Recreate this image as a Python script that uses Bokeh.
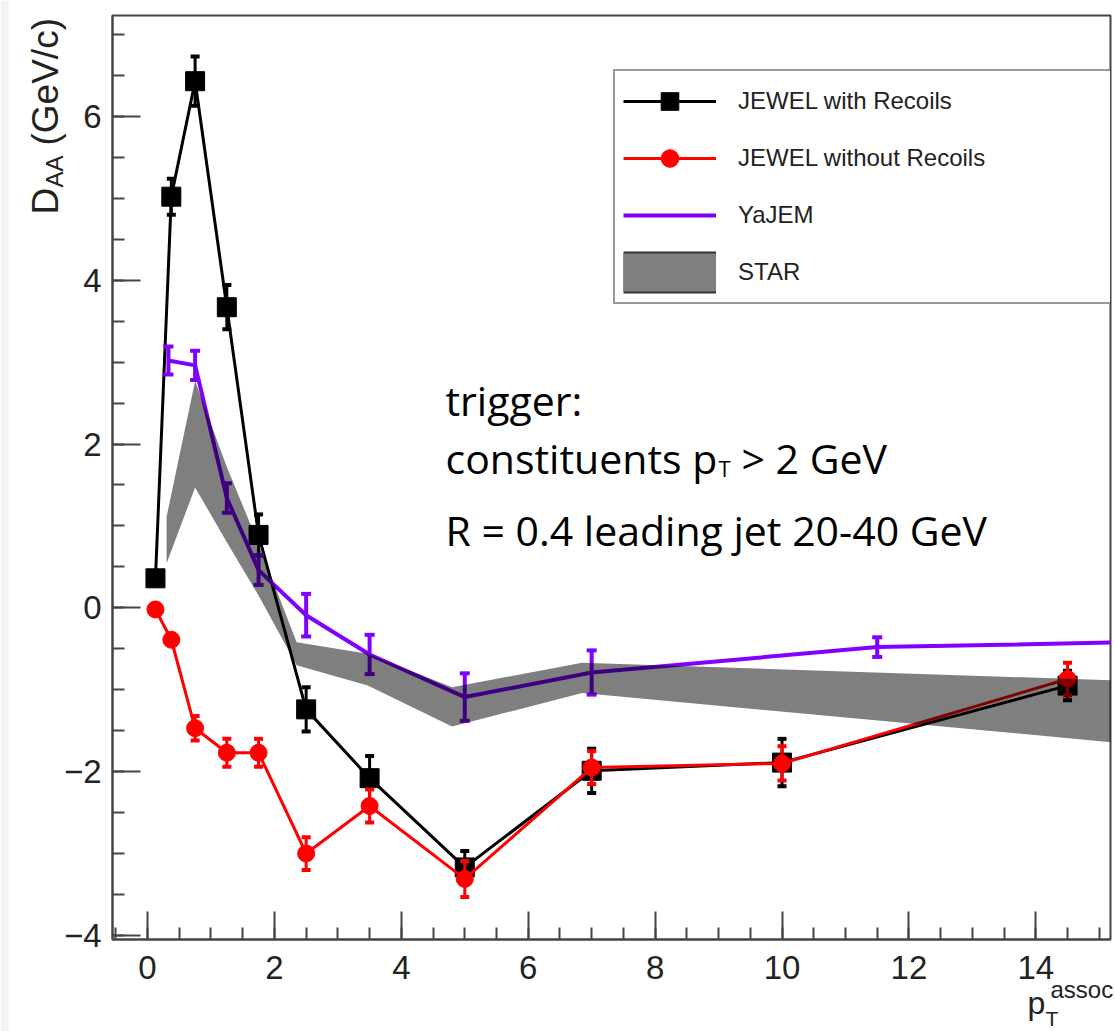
import math
from bokeh.plotting import figure
from bokeh.layouts import column
from bokeh.models import (Range1d, FixedTicker, CustomJSTickFormatter, Label,
                          Legend, LegendItem, GridBox)
from bokeh.embed import file_html
from bokeh.resources import INLINE

# ---------------- data ----------------
pt_x = [0.125, 0.375, 0.75, 1.25, 1.75, 2.5, 3.5, 5.0, 7.0, 10.0, 14.5]
rec_y = [0.36, 5.02, 6.43, 3.67, 0.89, -1.24, -2.08, -3.17, -1.99, -1.89, -0.95]
rec_err = [0.08, 0.22, 0.30, 0.27, 0.25, 0.27, 0.27, 0.20, 0.27, 0.29, 0.18]
norec_y = [-0.02, -0.39, -1.47, -1.77, -1.77, -3.00, -2.42, -3.31, -1.95, -1.90, -0.87]
norec_err = [0.05, 0.06, 0.15, 0.17, 0.17, 0.20, 0.20, 0.22, 0.20, 0.21, 0.20]
yajem_x = [0.33, 0.75, 1.25, 1.75, 2.5, 3.5, 5.0, 7.0, 11.5, 17.5]
yajem_y = [3.02, 2.96, 1.34, 0.46, -0.09, -0.57, -1.09, -0.79, -0.48, -0.39]
yajem_err = [0.17, 0.18, 0.18, 0.18, 0.26, 0.24, 0.29, 0.27, 0.12, 0.12]
star_x = [0.30, 0.75, 1.25, 1.75, 2.35, 3.47, 4.80, 6.85, 16.0]
star_hi = [1.11, 2.77, 1.72, 0.78, -0.42, -0.56, -0.97, -0.67, -0.905]
star_lo = [0.54, 1.47, 0.80, 0.15, -0.70, -0.95, -1.45, -1.04, -1.70]

x_major = [0, 2, 4, 6, 8, 10, 12, 14]
x_minor = [v * 0.5 for v in range(-1, 31)]
y_major = [-4, -2, 0, 2, 4, 6]
y_minor = [v * 0.5 for v in range(-8, 15)]

series_labels = ["JEWEL with Recoils", "JEWEL without Recoils", "YaJEM", "STAR"]
x_title = ["p", "T", "assoc"]
y_title = ["D", "AA", "(GeV/c)"]
note_lines = ["trigger:", "constituents p", "T", "> 2 GeV", "R = 0.4 leading jet 20-40 GeV"]

# ---------------- geometry (page pixels) ----------------
W, H = 1115, 1031
FL, FR, FT, FB = 112, 1110, 15, 939   # frame edges
PXU_X, PXU_Y = 63.45, 81.9
X0 = -0.552
Y0 = -4.05
X1 = X0 + (FR - FL) / PXU_X
Y1 = Y0 + (FB - FT) / PXU_Y


def X(px):
    return X0 + (px - FL) / PXU_X


def Y(py):
    return Y0 + (FB - py) / PXU_Y


p = figure(width=W, height=H, x_range=Range1d(X0, X1), y_range=Range1d(Y0, Y1),
           output_backend="svg", toolbar_location=None,
           min_border_left=FL, min_border_right=W - FR,
           min_border_top=FT, min_border_bottom=H - FB)
p.grid.visible = False
p.outline_line_color = "#444444"
p.outline_line_width = 2
p.background_fill_color = "white"
p.border_fill_color = "white"

fmt = CustomJSTickFormatter(code="return tick < 0 ? '\\u2212' + Math.abs(tick) : String(tick);")
for ax, maj, mnr in ((p.xaxis[0], x_major, x_minor), (p.yaxis[0], y_major, y_minor)):
    ax.ticker = FixedTicker(ticks=maj, minor_ticks=mnr)
    ax.formatter = fmt
    ax.major_tick_in = 28
    ax.major_tick_out = 0
    ax.minor_tick_in = 12
    ax.minor_tick_out = 0
    ax.axis_line_width = 2
    ax.axis_line_color = "#444444"
    ax.major_tick_line_width = 2
    ax.major_tick_line_color = "#444444"
    ax.minor_tick_line_width = 2
    ax.minor_tick_line_color = "#444444"
    ax.major_label_text_font = "Liberation Sans"
    ax.major_label_text_font_size = "33px"
    ax.major_label_text_color = "#222222"
p.xaxis.major_label_standoff = 16
p.yaxis.major_label_standoff = 11

# ---------------- JEWEL with recoils ----------------
BLACK = "black"
rec_lo = [a - b for a, b in zip(rec_y, rec_err)]
rec_hi = [a + b for a, b in zip(rec_y, rec_err)]
p.segment(x0=pt_x, x1=pt_x, y0=rec_lo, y1=rec_hi, line_color=BLACK, line_width=3)
p.scatter(x=pt_x + pt_x, y=rec_lo + rec_hi, marker="dash", size=9, line_width=4, line_color=BLACK)
r_rec_line = p.line(pt_x, rec_y, line_color=BLACK, line_width=3)
r_rec_pts = p.scatter(pt_x, rec_y, marker="square", size=19, fill_color=BLACK, line_color=BLACK)

# ---------------- JEWEL without recoils ----------------
RED = "#ff0000"
norec_lo = [a - b for a, b in zip(norec_y, norec_err)]
norec_hi = [a + b for a, b in zip(norec_y, norec_err)]
p.segment(x0=pt_x, x1=pt_x, y0=norec_lo, y1=norec_hi, line_color=RED, line_width=3)
p.scatter(x=pt_x + pt_x, y=norec_lo + norec_hi, marker="dash", size=9, line_width=4, line_color=RED)
r_norec_line = p.line(pt_x, norec_y, line_color=RED, line_width=3)
r_norec_pts = p.scatter(pt_x, norec_y, marker="circle", size=17, fill_color=RED, line_color=RED)

# ---------------- YaJEM ----------------
PURPLE = "#7f00ff"
yj_lo = [a - b for a, b in zip(yajem_y, yajem_err)]
yj_hi = [a + b for a, b in zip(yajem_y, yajem_err)]
p.segment(x0=yajem_x, x1=yajem_x, y0=yj_lo, y1=yj_hi, line_color=PURPLE, line_width=4)
p.scatter(x=yajem_x + yajem_x, y=yj_lo + yj_hi, marker="dash", size=10, line_width=4, line_color=PURPLE)
r_yajem_line = p.line(yajem_x, yajem_y, line_color=PURPLE, line_width=4)
nan = float("nan")
r_yajem_dot = p.scatter(x=[nan], y=[nan], marker="circle", size=2, fill_color=BLACK, line_color=BLACK)

# ---------------- STAR band (semi-transparent black on top) ----------------
p.varea(x=star_x, y1=star_lo, y2=star_hi, fill_color="black", fill_alpha=0.5)
r_star_edge = p.line(x=[nan], y=[nan], line_color="#333333", line_width=42)
r_star_fill = p.line(x=[nan], y=[nan], line_color="#808080", line_width=38)

# ---------------- legend ----------------
legend = Legend(items=[
    LegendItem(label=series_labels[0], renderers=[r_rec_line, r_rec_pts]),
    LegendItem(label=series_labels[1], renderers=[r_norec_line, r_norec_pts]),
    LegendItem(label=series_labels[2], renderers=[r_yajem_line]),
    LegendItem(label=series_labels[3], renderers=[r_star_edge, r_star_fill]),
], location=(613 - FL, FB - 304), orientation="vertical")
legend.padding = 8
legend.spacing = 13
legend.margin = 0
legend.glyph_width = 93
legend.glyph_height = 44
legend.label_height = 44
legend.label_standoff = 22
legend.label_width = (FR - 613) - 16 - 93 - 22
legend.label_text_font = "Liberation Sans"
legend.label_text_font_size = "24px"
legend.label_text_color = "#222222"
legend.border_line_color = "#333333"
legend.border_line_width = 2
legend.background_fill_color = "white"
legend.background_fill_alpha = 1.0
p.add_layout(legend)

# ---------------- annotation text inside the frame ----------------
NOTE_FONT = "Open Sans"
NOTE_SHIFT = 13   # measured downward offset of the rendered baseline


def note(txt, px, py, size, shift=NOTE_SHIFT):
    p.add_layout(Label(x=X(px), y=Y(py - shift), text=txt, text_font=NOTE_FONT,
                       text_font_size=size, text_color="black",
                       text_align="left", text_baseline="alphabetic"))


note(note_lines[0], 445, 412, "41px")
note(note_lines[1], 445, 470, "41px")
note(note_lines[2], 445 + 273, 474, "22px", 7)
note(note_lines[3], 445 + 273 + 12 + 11, 470, "41px")
note(note_lines[4], 445, 542, "41px")

# ---------------- transparent overlay for the axis titles ----------------
ann = figure(width=W, height=H, x_range=Range1d(0, W), y_range=Range1d(H, 0),
             output_backend="svg", toolbar_location=None,
             x_axis_type=None, y_axis_type=None, min_border=0)
ann.grid.visible = False
ann.outline_line_color = None
ann.background_fill_alpha = 0
ann.border_fill_alpha = 0
ann.quad(left=[0], right=[8], top=[0], bottom=[H], fill_color="#f3f3f3", line_color=None)


def title(txt, px, py, size, angle=0.0):
    ann.add_layout(Label(x=px, y=py, text=txt, text_font="Liberation Sans",
                         text_font_size=size, text_color="#222222", angle=angle,
                         text_align="left", text_baseline="alphabetic"))


title(y_title[0], 45, 214, "37px", math.pi / 2)
title(y_title[1], 54, 187, "24px", math.pi / 2)
title(y_title[2], 45, 145, "37px", math.pi / 2)

title(x_title[0], 1027, 1002, "32px")
title(x_title[1], 1045, 1018, "21px")
title(x_title[2], 1050, 989, "24px")

if "frame_align" in p.properties():
    p.frame_align = False
    ann.frame_align = False
    layout = GridBox(children=[(p, 0, 0), (ann, 0, 0)])
else:
    ann.margin = (-H, 0, 0, 0)
    layout = column(p, ann)
open("out.html", "w").write(file_html(layout, INLINE))
